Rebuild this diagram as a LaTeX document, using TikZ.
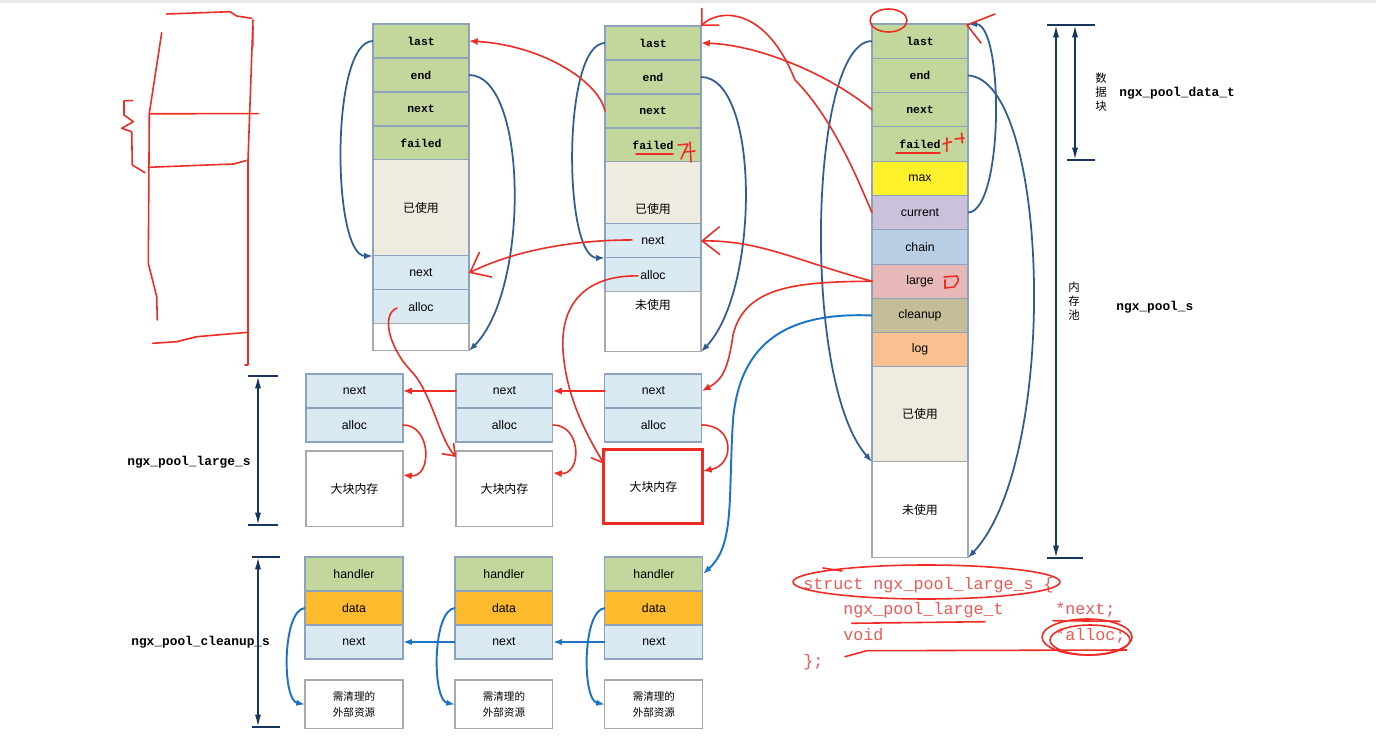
\documentclass[tikz,border=0pt]{standalone}
\usepackage{fontspec}
\setmainfont{Liberation Sans}
\setmonofont{Liberation Mono}
\newfontfamily\cjk{Noto Sans CJK SC}
\usetikzlibrary{arrows.meta,positioning}

\definecolor{hdrgreen}{HTML}{C3D69B}
\definecolor{usedgray}{HTML}{EEECE1}
\definecolor{ltblue}{HTML}{DAEAF3}
\definecolor{maxyellow}{HTML}{FFF22D}
\definecolor{curviolet}{HTML}{CCC1DA}
\definecolor{chainblue}{HTML}{B9CDE5}
\definecolor{largepink}{HTML}{E6B9B8}
\definecolor{cleantan}{HTML}{C4BD97}
\definecolor{logpeach}{HTML}{FAC08F}
\definecolor{dataorange}{HTML}{FCBA2C}
\definecolor{cellline}{HTML}{8DA3BD}
\definecolor{boxline}{HTML}{A9A9A9}
\definecolor{ptrblue}{HTML}{2F5D93}
\definecolor{clnblue}{HTML}{1B75C4}
\definecolor{dimnavy}{HTML}{17365D}
\definecolor{penred}{HTML}{EE2C24}
\definecolor{codered}{HTML}{EB5A55}

\begin{document}
\begin{tikzpicture}[x=0.02cm, y=-0.02cm, node distance=0pt,
    cell/.style = {draw=cellline, line width=0.6pt, minimum width=1.92cm, minimum height=0.68cm, inner sep=0pt, outer sep=0pt, font=\fontsize{7}{8}\selectfont},
    hdr/.style = {cell, fill=hdrgreen, font=\ttfamily\bfseries\fontsize{6.5}{7}\selectfont},
    usedcell/.style = {cell, fill=usedgray, font=\cjk\fontsize{6.8}{8}\selectfont},
    freecell/.style = {cell, draw=boxline, fill=white, font=\cjk\fontsize{6.8}{8}\selectfont},
    lcell/.style = {cell, fill=ltblue},
    rowthree/.style = {minimum height=0.686cm},
    bcell/.style = {minimum width=1.94cm},
    ccell/.style = {minimum width=1.96cm},
    cjklbl/.style = {font=\cjk\fontsize{6.8}{8}\selectfont, inner sep=0pt},
    vcjk/.style = {align=center, font=\cjk\fontsize{6.5}{8}\selectfont, inner sep=0pt},
    structlbl/.style = {anchor=west, inner sep=0pt, font=\ttfamily\bfseries\fontsize{7.3}{8}\selectfont},
    code/.style = {anchor=base west, inner sep=0pt, text=codered, font=\ttfamily\fontsize{9.5}{10}\selectfont},
    ptr/.style = {ptrblue, line width=1pt, -{Latex[length=5pt,width=3.6pt]}},
    cln/.style = {clnblue, line width=1.1pt, -{Latex[length=5pt,width=3.6pt]}},
    pen/.style = {penred, line width=0.9pt, line cap=round, line join=round},
    penarr/.style = {pen, -{Latex[length=5pt,width=4pt]}},
    barb/.style = {pen, -{Straight Barb[length=10pt,width=16pt]}},
    sbarb/.style = {pen, -{Straight Barb[length=6pt,width=9pt]}},
    cornerbarb/.style = {pen, -{Straight Barb[length=7pt,width=14pt]}},
    dim/.style = {dimnavy, line width=1pt},
    dimarr/.style = {dim, {Latex[length=7pt,width=3.5pt]}-{Latex[length=7pt,width=3.5pt]}}]

    \fill[white] (0,0) rectangle (1376,749);
    \useasboundingbox (0,0) rectangle (1376,749);
    \fill[gray!18] (0,0) rectangle (1376,3);

    \node[hdr] (last1) at (421,41) {last};
    \node[hdr] (end1) [below=of last1] {end};
    \node[hdr] (next1) [below=of end1] {next};
    \node[hdr] (failed1) [below=of next1] {failed};
    \node[usedcell, minimum height=1.92cm] (used1) [below=of failed1] {已使用};
    \node[lcell] (lnext1) [below=of used1] {next};
    \node[lcell] (lalloc1) [below=of lnext1] {alloc};
    \node[freecell, minimum height=0.54cm] (free1) [below=of lalloc1] {};

    \node[hdr] (last2) at (653,43) {last};
    \node[hdr] (end2) [below=of last2] {end};
    \node[hdr] (next2) [below=of end2] {next};
    \node[hdr] (failed2) [below=of next2] {failed};
    \node[usedcell, minimum height=1.24cm, label={[cjklbl, yshift=-0.32cm]center:已使用}] (used2) [below=of failed2] {};
    \node[lcell] (lnext2) [below=of used2] {next};
    \node[lcell] (lalloc2) [below=of lnext2] {alloc};
    \node[freecell, minimum height=1.2cm, label={[cjklbl, yshift=0.34cm]center:未使用}] (free2) [below=of lalloc2] {};

    \node[hdr, rowthree] (last3) at (920,41.15) {last};
    \node[hdr, rowthree] (end3) [below=of last3] {end};
    \node[hdr, rowthree] (next3) [below=of end3] {next};
    \node[hdr, rowthree] (failed3) [below=of next3] {failed};
    \node[cell, rowthree, fill=maxyellow] (max3) [below=of failed3] {max};
    \node[cell, rowthree, fill=curviolet] (current3) [below=of max3] {current};
    \node[cell, rowthree, fill=chainblue] (chain3) [below=of current3] {chain};
    \node[cell, rowthree, fill=largepink] (large3) [below=of chain3] {large};
    \node[cell, rowthree, fill=cleantan] (cleanup3) [below=of large3] {cleanup};
    \node[cell, rowthree, fill=logpeach] (log3) [below=of cleanup3] {log};
    \node[usedcell, minimum height=1.9cm] (used3) [below=of log3] {已使用};
    \node[freecell, minimum height=1.92cm] (free3) [below=of used3] {未使用};

    \node[lcell, bcell] (bnext1) at (354.5,391) {next};
    \node[lcell, bcell] (balloc1) [below=of bnext1] {alloc};
    \node[freecell, bcell, minimum height=1.52cm] (bbox1) [below=0.18cm of balloc1] {大块内存};
    \node[lcell, bcell] (bnext2) [right=1.06cm of bnext1] {next};
    \node[lcell, bcell] (balloc2) [below=of bnext2] {alloc};
    \node[freecell, bcell, minimum height=1.52cm] (bbox2) [below=0.18cm of balloc2] {大块内存};
    \node[lcell, bcell] (bnext3) [right=1.04cm of bnext2] {next};
    \node[lcell, bcell] (balloc3) [below=of bnext3] {alloc};
    \node[freecell, draw=penred, line width=1.7pt, minimum width=1.98cm, minimum height=1.48cm] (bbox3) [below=0.16cm of balloc3] {大块内存};

    \node[cell, ccell, fill=hdrgreen] (chandler1) at (354,574) {handler};
    \node[cell, ccell, fill=dataorange] (cdata1) [below=of chandler1] {data};
    \node[lcell, ccell] (cnext1) [below=of cdata1] {next};
    \node[freecell, ccell, minimum height=0.98cm, align=center, font=\cjk\fontsize{6}{9.5}\selectfont] (res1) [below=0.42cm of cnext1] {需清理的\\外部资源};
    \node[cell, ccell, fill=hdrgreen] (chandler2) [right=1.04cm of chandler1] {handler};
    \node[cell, ccell, fill=dataorange] (cdata2) [below=of chandler2] {data};
    \node[lcell, ccell] (cnext2) [below=of cdata2] {next};
    \node[freecell, ccell, minimum height=0.98cm, align=center, font=\cjk\fontsize{6}{9.5}\selectfont] (res2) [below=0.42cm of cnext2] {需清理的\\外部资源};
    \node[cell, ccell, fill=hdrgreen] (chandler3) [right=1.04cm of chandler2] {handler};
    \node[cell, ccell, fill=dataorange] (cdata3) [below=of chandler3] {data};
    \node[lcell, ccell] (cnext3) [below=of cdata3] {next};
    \node[freecell, ccell, minimum height=0.98cm, align=center, font=\cjk\fontsize{6}{9.5}\selectfont] (res3) [below=0.42cm of cnext3] {需清理的\\外部资源};

    \node[structlbl] (datalbl) at (1119,93) {ngx\_pool\_data\_t};
    \node[structlbl] (poollbl) at (1116,307) {ngx\_pool\_s};
    \node[structlbl] (largelbl) at (127,462) {ngx\_pool\_large\_s};
    \node[structlbl] (cleanlbl) at (131,642) {ngx\_pool\_cleanup\_s};
    \node[vcjk] (datablk) at (1101,92) {数\\据\\块};
    \node[vcjk] (poolblk) at (1074,301) {内\\存\\池};

    \coordinate (poolTop) at (1056,25);
    \coordinate (poolBot) at (1056,558);
    \coordinate (dataTop) at (1075,25);
    \coordinate (dataBot) at (1075,160);
    \coordinate (largeTop) at (258,376);
    \coordinate (largeBot) at (258,525);
    \coordinate (cleanTop) at (258,557);
    \coordinate (cleanBot) at (258,727);
    \draw[dimarr] (poolTop) -- (poolBot);
    \draw[dimarr] (dataTop) -- (dataBot);
    \draw[dimarr] (largeTop) -- (largeBot);
    \draw[dimarr] (cleanTop) -- (cleanBot);
    \draw[dim] ([shift={(-9,0)}]poolTop) -- ([shift={(39,0)}]poolTop);
    \draw[dim] ([shift={(-9,0)}]poolBot) -- ([shift={(27,0)}]poolBot);
    \draw[dim] ([shift={(-8,0)}]dataBot) -- ([shift={(20,0)}]dataBot);
    \draw[dim] ([shift={(-10,0)}]largeTop) -- ([shift={(20,0)}]largeTop);
    \draw[dim] ([shift={(-10,0)}]largeBot) -- ([shift={(20,0)}]largeBot);
    \draw[dim] ([shift={(-6,0)}]cleanTop) -- ([shift={(22,0)}]cleanTop);
    \draw[dim] ([shift={(-6,0)}]cleanBot) -- ([shift={(22,0)}]cleanBot);

    \draw[ptr] (last1.west) .. controls (330,41) and (332,256) .. (used1.south west);
    \draw[ptr] (end1.east) .. controls (528,75) and (530,290) .. (free1.south east);
    \draw[ptr] (last2.west) .. controls (562,43) and (563,258) .. (lnext2.south west);
    \draw[ptr] (end2.east) .. controls (760,77) and (760,290) .. (free2.south east);
    \draw[ptr] (last3.west) .. controls (810,40) and (800,380) .. (used3.south west);
    \draw[ptr] (end3.east) .. controls (1050,80) and (1060,460) .. (free3.south east);
    \draw[ptr] (current3.east) .. controls (1004,211) and (1004,24) .. (last3.north east);

    \draw[cln] (cleanup3.west) .. controls (790,312) and (740,340) .. (733,420) .. controls (728,500) and (735,545) .. (chandler3.east);
    \path[cln] (cnext3) edge (cnext2);
    \path[cln] (cnext2) edge (cnext1);
    \draw[cln] (cdata1.west) .. controls (282,610) and (282,700) .. (res1.west);
    \draw[cln] (cdata2.west) .. controls (432,610) and (432,700) .. (res2.west);
    \draw[cln] (cdata3.west) .. controls (582,610) and (582,700) .. (res3.west);

    \path[penarr] (bnext3) edge (bnext2);
    \path[penarr] (bnext2) edge (bnext1);
    \draw[penarr] (balloc1.east) .. controls (432,425) and (432,478) .. ([shift={(0,-14)}]bbox1.east);
    \draw[penarr] (balloc2.east) .. controls (582,425) and (582,475) .. ([shift={(0,-16)}]bbox2.east);
    \draw[penarr] (balloc3.east) .. controls (735,425) and (735,465) .. ([shift={(0,-16)}]bbox3.east);

    \draw[penarr] (next2.west) .. controls (598,80) and (540,45) .. (last1.east);
    \draw[penarr] (next3.west) .. controls (830,75) and (760,45) .. (last2.east);
    \draw[cornerbarb] (current3.west) .. controls (862,190) and (835,120) .. (795,80) .. controls (765,5) and (718,9) .. (last2.north east);
    \draw[barb] (large3.west) .. controls (800,262) and (760,240) .. (lnext2.east);
    \draw[barb] ([shift={(-21,-1)}]lnext2.center) .. controls (560,240) and (505,255) .. (lnext1.east);
    \draw[sbarb] ([shift={(-15,1)}]lalloc2.center) .. controls (590,275) and (560,300) .. (563,350) .. controls (566,400) and (590,440) .. ([shift={(0,14)}]bbox3.north west);
    \draw[sbarb] ([shift={(-24,1)}]lalloc1.center) .. controls (380,315) and (390,350) .. (413,373) .. controls (432,395) and (440,440) .. ([shift={(0,6)}]bbox2.north west);
    \draw[penarr] (large3.west) .. controls (800,282) and (745,285) .. (733,335) .. controls (728,370) and (722,380) .. (bnext3.east);

    \draw[pen] (888.5,20.5) ellipse (18.5 and 11.5);
    \draw[pen] (995,14) -- (967,25) -- (981,43);
    \draw[pen] (636,154) -- (673,154);
    \draw[pen] (678,145) -- (688,144) -- (681,159);
    \draw[pen] (684,152) -- (695,151);
    \draw[pen] (690,142) -- (691,162);
    \draw[pen] (896,153) -- (940,153);
    \draw[pen] (947,138) -- (946.7,151.7);
    \draw[pen] (943,144) -- (951.7,141.7);
    \draw[pen] (961.7,133) -- (962.3,143);
    \draw[pen] (955,139) -- (964,138);
    \draw[pen] (944,277) -- (957,276) .. controls (959,281) .. (954,287) -- (945,288);
    \draw[pen] (945,280) -- (945,288);

    \draw[pen] (166.7,14) -- (230,11.7) -- (236.7,16) -- (251.7,18.3);
    \draw[pen] (253,26.7) -- (252.7,46.7);
    \draw[pen] (253,20) -- (248,160) -- (248,365) -- (245,365);
    \draw[pen] (161.7,32.7) -- (149.3,113.3) -- (148.3,263.3) -- (156.7,296.7) -- (157.3,320);
    \draw[pen] (149.3,113.8) -- (258.3,113.6);
    \draw[pen] (148.3,167.3) -- (233.3,164) -- (246,160.7);
    \draw[pen] (152.7,343.3) -- (176.7,341.7) -- (196.7,336.7) -- (248.3,332.3);
    \draw[pen] (132.7,100.7) -- (124,100.7) -- (124,115) -- (133.3,121.7) -- (121.7,128.3) -- (131.7,131.7) -- (132.3,165) -- (145,172.7);

    \node[code] (code1) at (803,589.5) {struct ngx\_pool\_large\_s \{};
    \node[code] (code2) at (843,614.5) {ngx\_pool\_large\_t};
    \node[code] (code2f) at (1055,614.5) {*next;};
    \node[code] (code3) at (843,640.5) {void};
    \node[code] (code3f) at (1055,640.5) {*alloc;};
    \node[code] (code4) at (803,666) {\};};

    \draw[pen] (926.5,582) ellipse (133.5 and 17);
    \draw[pen] (823,568) -- (842,571);
    \draw[pen] (851.7,623.3) -- (985,621.7);
    \draw[pen] (1053,620.7) -- (1120,621.3);
    \draw[pen] (1087,637) ellipse (45 and 18);
    \draw[pen] (1090,640) ellipse (40 and 15);
    \draw[pen] (845,656.7) -- (866.7,650.7) -- (1126.7,650);

\end{tikzpicture}
\end{document}
